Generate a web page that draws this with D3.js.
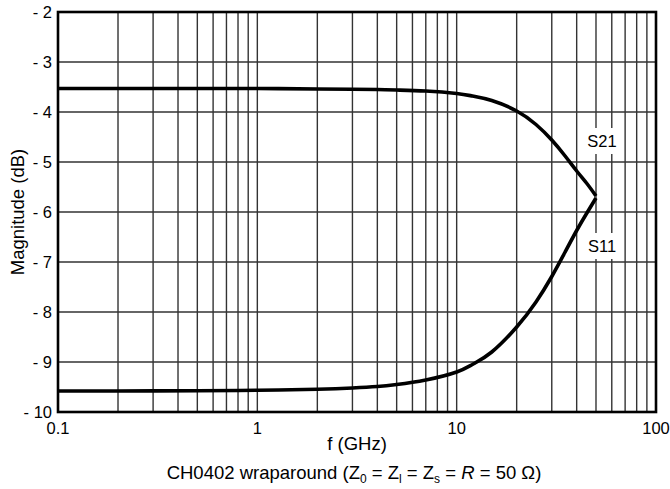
<!DOCTYPE html>
<html>
<head>
<meta charset="utf-8">
<script src="https://cdn.jsdelivr.net/npm/d3@7"></script>
<style>
  body { margin: 0; background: #fff; }
  text { font-family: "Liberation Sans", Arial, Helvetica, sans-serif; fill: #000; }
</style>
</head>
<body>
<svg id="chart" width="670" height="489"></svg>
<script>
// values
var freqs = [0.1, 0.2, 0.5, 1, 2, 3, 4, 5, 7, 10, 12, 15, 20, 25, 30, 35, 40, 45, 50];
var s21 = [-3.53, -3.53, -3.53, -3.53, -3.54, -3.545, -3.55, -3.56, -3.58, -3.63, -3.68, -3.77, -3.98, -4.25, -4.56, -4.88, -5.18, -5.43, -5.68];
var s11 = [-9.58, -9.58, -9.575, -9.565, -9.545, -9.52, -9.49, -9.45, -9.36, -9.2, -9.05, -8.8, -8.3, -7.8, -7.29, -6.8, -6.37, -6.02, -5.72];
var yTicks = [-2, -3, -4, -5, -6, -7, -8, -9, -10];
var xTicks = [0.1, 1, 10, 100];
var curveLabels = [
  {name: "S21", f: 50, v: -4.58},
  {name: "S11", f: 50, v: -6.68}
];

var svg = d3.select("#chart");
var m = {left: 58, right: 656, top: 12, bottom: 412};

var x = d3.scaleLog().domain([0.1, 100]).range([m.left, m.right]);
var y = d3.scaleLinear().domain([-10, -2]).range([m.bottom, m.top]);

// minor + major vertical grid
var gridX = [];
[0.1, 1, 10].forEach(function(d) {
  for (var i = 1; i <= 9; i++) gridX.push(d * i);
});
gridX = gridX.filter(function(d) { return d > 0.1; });

var grid = svg.append("g").attr("stroke", "#333").attr("stroke-width", 1.4);
grid.selectAll("line.v").data(gridX).enter().append("line")
  .attr("class", "v")
  .attr("x1", function(d) { return x(d); }).attr("x2", function(d) { return x(d); })
  .attr("y1", m.top).attr("y2", m.bottom);
grid.selectAll("line.h").data(yTicks.slice(1, -1)).enter().append("line")
  .attr("class", "h")
  .attr("x1", m.left).attr("x2", m.right)
  .attr("y1", function(d) { return y(d); }).attr("y2", function(d) { return y(d); });

// curves
var line = d3.line()
  .x(function(d, i) { return x(freqs[i]); })
  .y(function(d) { return y(d); })
  .curve(d3.curveNatural);

[s21, s11].forEach(function(s) {
  svg.append("path").datum(s)
    .attr("d", line)
    .attr("fill", "none")
    .attr("stroke", "#000")
    .attr("stroke-width", 3.6)
    .attr("stroke-linejoin", "round");
});

// frame
svg.append("rect")
  .attr("x", m.left).attr("y", m.top)
  .attr("width", m.right - m.left).attr("height", m.bottom - m.top)
  .attr("fill", "none").attr("stroke", "#000").attr("stroke-width", 2.6);

// curve labels with white backing
var lab = svg.selectAll("g.lab").data(curveLabels).enter().append("g")
  .attr("class", "lab")
  .attr("transform", function(d) { return "translate(" + (x(d.f) + 6) + "," + y(d.v) + ")"; });
lab.append("rect")
  .attr("x", -18).attr("y", -13).attr("width", 36).attr("height", 26)
  .attr("fill", "#fff");
lab.append("text")
  .attr("text-anchor", "middle").attr("dy", "0.36em")
  .style("font-size", "16.5px")
  .text(function(d) { return d.name; });

// y tick labels
svg.selectAll("text.yt").data(yTicks).enter().append("text")
  .attr("class", "yt")
  .attr("x", m.left - 6).attr("y", function(d) { return y(d); })
  .attr("dy", "0.36em").attr("text-anchor", "end")
  .style("font-size", "16.5px")
  .text(function(d) { return "- " + Math.abs(d); });

// x tick labels
svg.selectAll("text.xt").data(xTicks).enter().append("text")
  .attr("class", "xt")
  .attr("x", function(d) { return x(d); }).attr("y", m.bottom + 22)
  .attr("text-anchor", "middle")
  .style("font-size", "16.5px")
  .text(function(d) { return d; });

// axis titles
svg.append("text")
  .attr("transform", "translate(24," + ((m.top + m.bottom) / 2) + ") rotate(-90)")
  .attr("text-anchor", "middle")
  .style("font-size", "18.5px")
  .text("Magnitude (dB)");

svg.append("text")
  .attr("x", 357).attr("y", 450)
  .attr("text-anchor", "middle")
  .style("font-size", "18.5px")
  .text("f (GHz)");

var cap = svg.append("text")
  .attr("x", 354).attr("y", 479)
  .attr("text-anchor", "middle")
  .style("font-size", "18.5px");
cap.append("tspan").text("CH0402 wraparound (Z");
cap.append("tspan").attr("dy", 4).style("font-size", "12px").text("0");
cap.append("tspan").attr("dy", -4).text(" = Z");
cap.append("tspan").attr("dy", 4).style("font-size", "12px").text("l");
cap.append("tspan").attr("dy", -4).text(" = Z");
cap.append("tspan").attr("dy", 4).style("font-size", "12px").text("s");
cap.append("tspan").attr("dy", -4).text(" = ");
cap.append("tspan").style("font-style", "italic").text("R");
cap.append("tspan").text(" = 50 \u03A9)");
</script>
</body>
</html>
